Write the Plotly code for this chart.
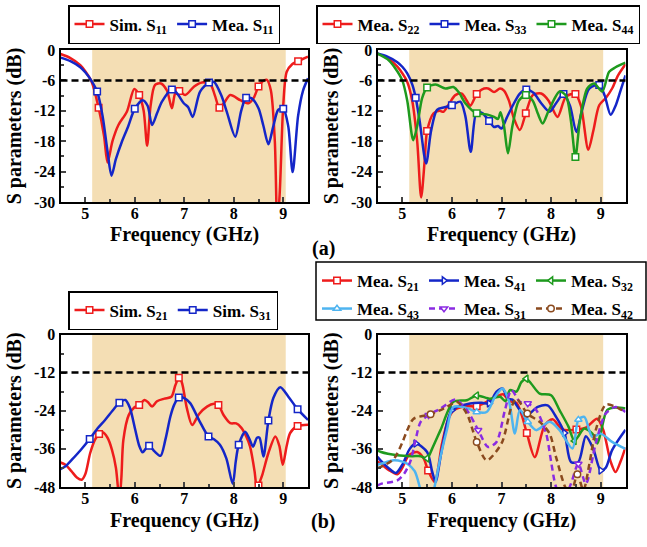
import numpy as np
import plotly.graph_objects as go

W, H = 647, 547
FONT = "Liberation Serif"

# ---------------- (a) left: S11 ----------------
s11_sim_f = [4.5, 4.7, 4.9, 5.0, 5.13, 5.27, 5.38, 5.45, 5.55, 5.67, 5.84, 5.99, 6.09, 6.18, 6.25,
             6.32, 6.41, 6.53, 6.65, 6.75, 6.82, 6.9, 7.02, 7.2, 7.36, 7.53, 7.62, 7.71, 7.8, 7.93,
             8.13, 8.3, 8.4, 8.5, 8.58, 8.67, 8.75, 8.83, 8.88, 8.93, 9.0, 9.07, 9.18, 9.3, 9.5]
s11_sim_db = [-0.8, -1.6, -3.0, -4.2, -6.3, -11.4, -17.0, -22.2, -18.0, -14.8, -12.2, -7.7, -8.9, -12.0, -18.9,
              -11.0, -6.9, -6.6, -8.0, -11.5, -8.5, -8.1, -8.9, -7.2, -6.4, -6.8, -9.0, -11.4, -10.5, -8.9,
              -9.9, -10.5, -9.5, -7.2, -6.2, -5.9, -8.0, -18.0, -35.0, -28.0, -10.9, -4.3, -2.8, -2.2, -1.3]
s11_sim_mk = [5.27, 6.09, 6.9, 7.71, 8.5, 9.3]

s11_mea_f = [4.5, 4.7, 4.9, 5.0, 5.12, 5.24, 5.35, 5.45, 5.53, 5.62, 5.74, 5.87, 6.0, 6.16, 6.26, 6.35,
             6.45, 6.55, 6.75, 6.85, 6.99, 7.08, 7.17, 7.32, 7.5, 7.6, 7.75, 7.86, 8.03, 8.15, 8.25,
             8.37, 8.5, 8.6, 8.7, 8.8, 8.9, 9.0, 9.1, 9.19, 9.3, 9.4, 9.5]
s11_mea_db = [-1.5, -2.2, -3.4, -4.4, -6.0, -8.2, -13.0, -20.0, -24.8, -21.5, -18.1, -15.0, -11.6, -9.9, -11.0, -14.8,
              -12.5, -10.2, -7.8, -8.5, -10.5, -11.3, -13.2, -8.2, -6.4, -6.3, -9.0, -12.2, -17.1, -12.0, -9.4,
              -9.6, -11.5, -15.0, -18.6, -15.0, -11.8, -11.6, -15.0, -24.1, -13.0, -8.0, -5.6]
s11_mea_mk = [5.24, 6.0, 6.75, 7.5, 8.25, 9.0]

# ---------------- (a) right: S22, S33, S44 ----------------
s22_f = [4.5, 4.7, 4.9, 5.0, 5.1, 5.2, 5.3, 5.38, 5.45, 5.5, 5.63, 5.75, 5.83, 5.95, 6.07, 6.2, 6.3,
         6.37, 6.5, 6.6, 6.73, 6.85, 6.97, 7.05, 7.15, 7.25, 7.37, 7.49, 7.63, 7.8, 7.95, 8.13, 8.3,
         8.49, 8.6, 8.75, 8.85, 8.97, 9.1, 9.23, 9.35, 9.5]
s22_db = [-0.7, -1.6, -3.3, -4.6, -6.3, -10.0, -18.0, -29.1, -22.0, -16.0, -12.5, -12.0, -12.2, -10.5, -8.9, -8.6, -10.0,
          -11.0, -8.7, -7.8, -7.6, -8.3, -7.6, -8.0, -10.0, -13.5, -15.8, -12.5, -8.9, -8.6, -10.0, -13.2, -9.2,
          -8.7, -11.0, -19.7, -16.0, -10.9, -9.5, -7.6, -5.0, -2.8]
s22_mk = [5.5, 6.5, 7.49, 8.49]

s33_f = [4.5, 4.7, 4.9, 5.0, 5.1, 5.2, 5.27, 5.35, 5.48, 5.58, 5.7, 5.85, 6.0, 6.17, 6.27, 6.38, 6.5,
         6.62, 6.75, 6.85, 6.93, 7.0, 7.1, 7.23, 7.37, 7.5, 7.65, 7.8, 7.97, 8.1, 8.25, 8.38, 8.51,
         8.62, 8.77, 8.97, 9.08, 9.2, 9.3, 9.4, 9.5]
s33_db = [-0.7, -1.3, -2.4, -3.3, -4.6, -6.8, -9.4, -14.0, -22.4, -16.0, -11.8, -11.3, -10.9, -10.2, -13.0, -20.1, -12.2,
          -12.5, -14.0, -15.2, -15.0, -15.5, -13.5, -10.9, -8.6, -7.8, -8.5, -10.5, -12.2, -10.5, -8.7, -11.0, -16.2,
          -12.0, -7.6, -6.9, -9.0, -12.8, -11.0, -8.0, -5.0]
s33_mk = [5.27, 6.0, 6.75, 7.5, 8.25, 8.97]

s44_f = [4.5, 4.7, 4.85, 5.0, 5.1, 5.22, 5.3, 5.4, 5.5, 5.67, 5.87, 6.03, 6.15, 6.27, 6.5, 6.7, 6.85,
         6.93, 6.98, 7.05, 7.13, 7.22, 7.35, 7.49, 7.63, 7.73, 7.83, 7.95, 8.17, 8.3, 8.4, 8.49, 8.58,
         8.73, 8.87, 9.03, 9.17, 9.3, 9.5]
s44_db = [-0.7, -1.8, -3.5, -6.0, -10.0, -17.8, -15.0, -9.5, -7.4, -6.8, -7.6, -7.3, -8.5, -10.5, -12.5, -12.7, -13.2,
          -13.6, -12.3, -15.0, -20.4, -15.0, -10.0, -8.9, -10.0, -12.5, -14.5, -12.0, -8.2, -9.0, -14.0, -21.1, -14.0,
          -7.6, -6.6, -8.2, -4.3, -3.4, -2.5]
s44_mk = [5.5, 6.5, 7.49, 8.49]

# ---------------- (b) left: simulated S21, S31 ----------------
s21_sim_f = [4.5, 4.6, 4.72, 4.83, 4.93, 5.0, 5.1, 5.2, 5.28, 5.35, 5.45, 5.54, 5.62, 5.69, 5.73, 5.77,
             5.88, 6.0, 6.09, 6.2, 6.28, 6.35, 6.45, 6.6, 6.74, 6.82, 6.89, 6.95, 7.05, 7.16, 7.3, 7.46,
             7.6, 7.69, 7.8, 7.93, 8.05, 8.15, 8.25, 8.33, 8.42, 8.47, 8.5, 8.58, 8.7, 8.84, 8.92, 8.99,
             9.07, 9.14, 9.29, 9.5]
s21_sim_db = [-40.3, -41.0, -43.0, -45.0, -45.7, -44.0, -37.3, -33.0, -31.3, -30.8, -32.5, -36.3, -42.0, -52.0, -45.0, -33.2,
              -25.3, -22.8, -22.2, -20.6, -21.5, -22.7, -21.0, -20.2, -19.6, -16.0, -13.6, -15.0, -23.0, -28.5, -25.0, -22.7,
              -21.8, -22.2, -25.5, -27.9, -28.0, -29.3, -32.0, -35.3, -43.0, -49.0, -47.5, -44.0, -37.3, -32.1, -35.0, -41.0,
              -35.0, -31.0, -28.8, -28.4]
s21_sim_mk = [5.28, 6.09, 6.89, 7.69, 8.5, 9.29]

s31_sim_f = [4.5, 4.6, 4.73, 4.9, 5.09, 5.25, 5.4, 5.55, 5.69, 5.81, 5.9, 6.01, 6.09, 6.16, 6.22, 6.29,
             6.4, 6.52, 6.62, 6.72, 6.8, 6.89, 7.0, 7.12, 7.3, 7.49, 7.6, 7.72, 7.85, 7.98, 8.04, 8.1,
             8.23, 8.32, 8.39, 8.47, 8.52, 8.6, 8.7, 8.8, 8.94, 9.1, 9.29, 9.5]
s31_sim_db = [-42.4, -41.5, -39.4, -36.5, -32.9, -29.5, -26.9, -24.0, -21.5, -20.6, -23.0, -30.0, -35.0, -37.1, -36.0, -35.0,
              -36.8, -38.2, -33.0, -25.8, -22.0, -19.8, -20.0, -21.6, -27.0, -32.1, -33.0, -34.7, -39.0, -47.0, -40.0, -34.7,
              -30.6, -33.0, -35.3, -32.5, -32.5, -38.4, -27.1, -20.0, -16.6, -19.5, -23.5, -26.9]
s31_sim_mk = [5.09, 5.69, 6.29, 6.89, 7.49, 8.1, 8.7, 9.29]

# ---------------- (b) right: measured transmission ----------------
m21_f = [4.5, 4.57, 4.73, 4.9, 5.0, 5.13, 5.3, 5.43, 5.52, 5.65, 5.8, 5.92, 6.03, 6.28, 6.5, 6.73, 6.9,
         7.03, 7.17, 7.3, 7.4, 7.51, 7.67, 7.87, 8.03, 8.23, 8.51, 8.7, 8.93, 9.05, 9.2, 9.3, 9.4, 9.5]
m21_db = [-40.0, -40.7, -42.7, -44.0, -42.0, -38.0, -37.0, -39.0, -42.8, -46.4, -34.4, -27.0, -23.9, -22.6, -22.6, -21.0, -19.5,
          -18.8, -21.0, -21.5, -25.0, -31.0, -38.6, -28.6, -26.7, -29.9, -29.9, -29.3, -26.5, -30.0, -40.0, -43.3, -40.0, -35.5]
m21_mk = [5.52, 6.5, 7.51, 8.51]

m41_f = [4.5, 4.57, 4.72, 4.87, 5.0, 5.15, 5.27, 5.5, 5.6, 5.67, 5.8, 6.0, 6.37, 6.6, 6.75, 6.9, 7.02,
         7.13, 7.22, 7.37, 7.5, 7.73, 7.93, 8.1, 8.27, 8.4, 8.55, 8.7, 8.85, 9.0, 9.1, 9.23, 9.5]
m41_db = [-38.5, -39.8, -42.0, -43.6, -41.0, -36.0, -34.3, -37.0, -43.0, -46.4, -36.0, -23.8, -21.7, -21.5, -21.7, -18.0, -17.0,
          -20.2, -20.5, -23.8, -25.5, -22.8, -22.3, -25.9, -31.0, -40.1, -40.1, -32.0, -36.0, -42.8, -42.0, -36.4, -30.0]
m41_mk = [5.27, 6.0, 6.75, 7.5, 8.27, 9.0]

m32_f = [4.5, 4.57, 4.9, 5.2, 5.37, 5.5, 5.6, 5.77, 6.03, 6.3, 6.5, 6.77, 6.97, 7.08, 7.17, 7.3, 7.4,
         7.5, 7.6, 7.77, 8.0, 8.17, 8.35, 8.47, 8.55, 8.67, 8.83, 8.93, 9.0, 9.13, 9.3, 9.5]
m32_db = [-36.5, -37.0, -38.0, -38.3, -38.3, -39.0, -36.0, -30.1, -21.2, -20.7, -19.2, -20.2, -19.6, -21.0, -17.5, -18.0, -15.0,
          -13.9, -15.5, -18.6, -19.1, -23.8, -29.0, -33.5, -32.0, -29.6, -31.2, -34.3, -31.0, -23.8, -23.0, -23.3]
m32_mk = [5.5, 6.5, 7.5, 8.47]

m43_f = [4.5, 4.57, 4.83, 5.0, 5.1, 5.25, 5.37, 5.5, 5.62, 5.77, 5.9, 6.03, 6.33, 6.5, 6.7, 6.87, 7.02,
         7.15, 7.27, 7.37, 7.53, 7.7, 7.97, 8.17, 8.43, 8.55, 8.67, 8.83, 9.0, 9.23, 9.5]
m43_db = [-41.0, -40.7, -39.6, -40.0, -40.7, -43.0, -49.0, -55.0, -50.0, -38.5, -30.0, -22.8, -23.3, -24.4, -24.4, -19.6, -17.0,
          -21.0, -31.2, -23.8, -27.5, -30.1, -27.5, -30.1, -35.9, -26.8, -25.9, -32.2, -31.2, -33.8, -36.0]
m43_mk = [5.5, 6.5, 7.53, 8.55]

m31_f = [4.5, 4.57, 4.9, 5.05, 5.17, 5.27, 5.37, 5.53, 5.77, 6.07, 6.3, 6.53, 6.73, 6.9, 7.07, 7.2, 7.37,
         7.53, 7.7, 7.9, 8.0, 8.1, 8.25, 8.4, 8.55, 8.7, 8.9, 9.1, 9.3, 9.5]
m31_db = [-47.5, -47.0, -45.9, -43.5, -39.6, -33.0, -27.5, -25.4, -23.3, -20.5, -23.8, -30.1, -35.4, -33.8, -23.8, -17.5, -21.2,
          -21.7, -23.8, -31.2, -40.0, -48.0, -52.0, -47.0, -40.7, -47.0, -34.3, -24.9, -22.8, -24.4]
m31_mk = [5.53, 6.53, 7.53, 8.55]

m42_f = [4.5, 4.57, 4.83, 5.0, 5.1, 5.23, 5.57, 5.9, 6.1, 6.3, 6.5, 6.7, 7.0, 7.2, 7.3, 7.52, 7.77,
         7.97, 8.1, 8.3, 8.4, 8.53, 8.65, 8.78, 8.9, 9.11, 9.37, 9.5]
m42_db = [-42.0, -41.7, -39.1, -34.0, -30.1, -26.5, -25.1, -22.8, -21.2, -24.9, -33.8, -39.6, -34.3, -22.8, -20.2, -24.9, -27.5,
          -31.2, -38.6, -48.5, -50.0, -44.0, -49.0, -40.0, -30.1, -22.0, -23.3, -24.5]
m42_mk = [5.57, 6.5, 7.52, 8.53]

# thresholds and band
thr_a = -6
thr_b = -12
band = [5.14, 9.05]
x_ticks = [5, 6, 7, 8, 9]
ya_ticks = [0, -6, -12, -18, -24, -30]
ya_text = ["0", "-6", "-12", "-18", "-24", "-30"]
yb_ticks = [0, -12, -24, -36, -48]
yb_text = ["0", "-12", "-24", "-36", "-48"]

RED = "#EE1C1C"
BLUE = "#1426C8"
GREEN = "#1E9A1E"
LBLUE = "#4EB4F0"
PURPLE = "#8A2BE2"
BROWN = "#8B4A1E"
SHADE = "#F4DEB4"

fig = go.Figure()

def add_series(f, db, mk, name, color, symbol, ax, legend, dash="solid"):
    xa = "x" if ax == 1 else f"x{ax}"
    ya = "y" if ax == 1 else f"y{ax}"
    fig.add_trace(go.Scatter(x=f, y=db, mode="lines", xaxis=xa, yaxis=ya,
                             line=dict(color=color, width=2.5, shape="spline", smoothing=0.8, dash=dash),
                             showlegend=False, hoverinfo="skip"))
    fa = np.array(f)
    idx = [int(np.argmin(np.abs(fa - m))) for m in mk]
    fig.add_trace(go.Scatter(x=[f[i] for i in idx], y=[db[i] for i in idx], mode="markers",
                             xaxis=xa, yaxis=ya, showlegend=False, hoverinfo="skip",
                             marker=dict(symbol=symbol, size=6.5, color="white",
                                         line=dict(color=color, width=1.5))))
    fig.add_trace(go.Scatter(x=[None], y=[None], mode="lines+markers", xaxis=xa, yaxis=ya,
                             name=name, legend=legend,
                             line=dict(color=color, width=2.5, dash=dash),
                             marker=dict(symbol=symbol, size=6.5, color="white",
                                         line=dict(color=color, width=1.5))))

add_series(s11_sim_f, s11_sim_db, s11_sim_mk, "Sim. S<sub>11</sub>", RED, "square", 1, "legend")
add_series(s11_mea_f, s11_mea_db, s11_mea_mk, "Mea. S<sub>11</sub>", BLUE, "square", 1, "legend")
add_series(s22_f, s22_db, s22_mk, "Mea. S<sub>22</sub>", RED, "square", 2, "legend2")
add_series(s33_f, s33_db, s33_mk, "Mea. S<sub>33</sub>", BLUE, "square", 2, "legend2")
add_series(s44_f, s44_db, s44_mk, "Mea. S<sub>44</sub>", GREEN, "square", 2, "legend2")
add_series(s21_sim_f, s21_sim_db, s21_sim_mk, "Sim. S<sub>21</sub>", RED, "square", 3, "legend3")
add_series(s31_sim_f, s31_sim_db, s31_sim_mk, "Sim. S<sub>31</sub>", BLUE, "square", 3, "legend3")
add_series(m21_f, m21_db, m21_mk, "Mea. S<sub>21</sub>", RED, "square", 4, "legend4")
add_series(m41_f, m41_db, m41_mk, "Mea. S<sub>41</sub>", BLUE, "triangle-right", 4, "legend4")
add_series(m32_f, m32_db, m32_mk, "Mea. S<sub>32</sub>", GREEN, "triangle-left", 4, "legend4")
add_series(m43_f, m43_db, m43_mk, "Mea. S<sub>43</sub>", LBLUE, "triangle-up", 4, "legend5")
add_series(m31_f, m31_db, m31_mk, "Mea. S<sub>31</sub>", PURPLE, "triangle-down", 4, "legend5", dash="6px,4px")
add_series(m42_f, m42_db, m42_mk, "Mea. S<sub>42</sub>", BROWN, "circle", 4, "legend5", dash="6px,4px")

# axes geometry (pixels)
boxes = {1: (60.5, 308, 50, 202), 2: (377.5, 625.5, 50, 202),
         3: (60.5, 308, 334.5, 487), 4: (377.5, 625.5, 334.5, 487)}

tickfont = dict(family=FONT, size=16, color="black", weight="bold")
titlefont = dict(family=FONT, size=20, color="black", weight="bold")

layout_axes = {}
annotations = []
for k, (l, r, t, b) in boxes.items():
    xn = "xaxis" if k == 1 else f"xaxis{k}"
    yn = "yaxis" if k == 1 else f"yaxis{k}"
    ya_ref = "y" if k == 1 else f"y{k}"
    xa_ref = "x" if k == 1 else f"x{k}"
    top = k in (1, 2)
    layout_axes[xn] = dict(domain=[l / W, r / W], anchor=ya_ref, range=[4.5, 9.5], automargin=False,
                           tickvals=x_ticks, ticks="inside", ticklen=5, tickwidth=1.5,
                           ticklabelstandoff=-4,
                           minor=dict(ticks="inside", ticklen=3, tickwidth=1.5, tick0=4.5, dtick=0.5),
                           showline=True, mirror=True, linecolor="black", linewidth=2,
                           showgrid=False, zeroline=False, tickfont=tickfont)
    layout_axes[yn] = dict(domain=[1 - b / H, 1 - t / H], anchor=xa_ref, automargin=False,
                           range=[-30, 0] if top else [-48, 0],
                           tickvals=ya_ticks if top else yb_ticks,
                           ticktext=ya_text if top else yb_text,
                           ticks="inside", ticklen=5, tickwidth=1.5,
                           minor=dict(ticks="inside", ticklen=3, tickwidth=1.5,
                                      tick0=0, dtick=3 if top else 6),
                           showline=True, mirror=True, linecolor="black", linewidth=2,
                           showgrid=False, zeroline=False, tickfont=tickfont,
                           title=dict(text="S parameters (dB)", font=titlefont, standoff=7))
    annotations.append(dict(text="Frequency (GHz)", x=(l + r) / 2 / W, y=1 - (b + 33) / H,
                            xref="paper", yref="paper", xanchor="center", yanchor="middle",
                            showarrow=False, font=titlefont))

annotations.append(dict(text="(a)", x=323 / W, y=1 - 249 / H, xref="paper", yref="paper",
                        showarrow=False, font=titlefont))
annotations.append(dict(text="(b)", x=323 / W, y=1 - 535 / H, xref="paper", yref="paper",
                        showarrow=False, font=titlefont))

shapes = []
for k in boxes:
    xa_ref = "x" if k == 1 else f"x{k}"
    ya_ref = "y" if k == 1 else f"y{k}"
    shapes.append(dict(type="rect", xref=xa_ref, yref=f"{ya_ref} domain", x0=band[0], x1=band[1],
                       y0=0, y1=1, fillcolor=SHADE, line=dict(width=0), layer="below"))
    thr = thr_a if k in (1, 2) else thr_b
    shapes.append(dict(type="line", xref=f"{xa_ref} domain", yref=ya_ref, x0=0, x1=1, y0=thr, y1=thr,
                       line=dict(color="black", width=2.5, dash="7px,4px"), layer="above"))

# frame around the two-row legend (b)
shapes.append(dict(type="rect", xref="paper", yref="paper", x0=316 / W, x1=646 / W,
                   y0=1 - 320 / H, y1=1 - 262 / H, line=dict(color="black", width=1.5),
                   fillcolor="rgba(0,0,0,0)"))

legfont = dict(family=FONT, size=17, color="black", weight="bold")

def leg(xp, yp, border=True):
    return dict(x=xp / W, y=1 - yp / H, xanchor="left", yanchor="top", orientation="h",
                bgcolor="white" if border else "rgba(0,0,0,0)",
                bordercolor="black", borderwidth=1.5 if border else 0,
                font=legfont, itemwidth=30, tracegroupgap=0, itemclick=False)

fig.update_layout(
    width=W, height=H, margin=dict(l=0, r=0, t=0, b=0, autoexpand=False),
    plot_bgcolor="white", paper_bgcolor="white",
    shapes=shapes,
    legend=leg(68, 5), legend2=leg(316, 5), legend3=leg(68, 291),
    legend4=leg(317, 263, border=False), legend5=leg(317, 291, border=False),
    annotations=annotations,
    **layout_axes,
)

fig.write_html("out.html", config={"displayModeBar": False},
               post_script="document.body.style.margin='0px';")
